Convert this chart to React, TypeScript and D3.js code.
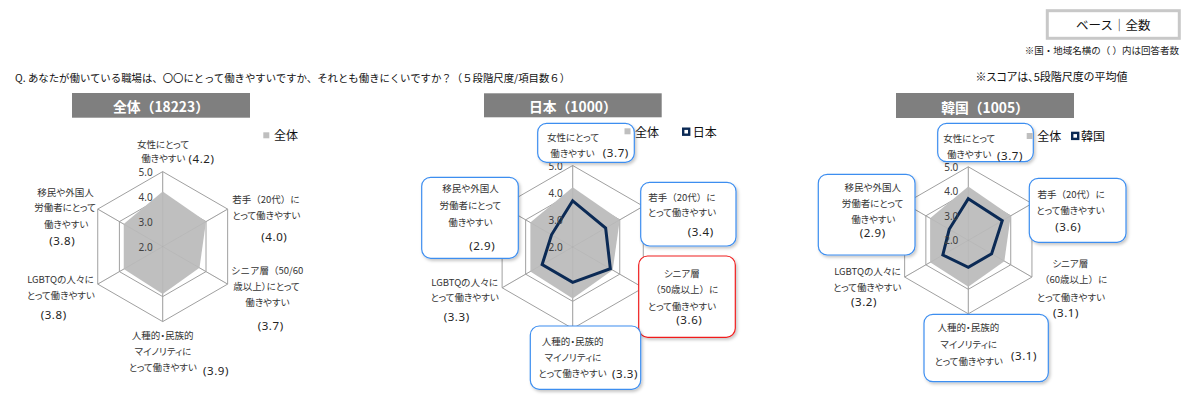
import React from "react";
import * as d3 from "d3";

// ---------- DATA ----------
const regionNames = ["全体", "日本", "韓国"];
const respondentCounts = [18223, 1000, 1005];
const overallValues = [4.2, 4.0, 3.7, 3.9, 3.8, 3.8];
const japanValues = [3.7, 3.4, 3.6, 3.3, 3.3, 2.9];
const koreaValues = [3.7, 3.6, 3.1, 3.1, 3.2, 2.9];
const tickValues = [2, 3, 4, 5];
const scaleDomain = [2, 5];

const overallAxisLabels = [
  ["女性にとって", "働きやすい"],
  ["若手（20代）に", "とって働きやすい"],
  ["シニア層（50/60", "歳以上）にとって", "働きやすい"],
  ["人種的・民族的", "マイノリティに", "とって働きやすい"],
  ["LGBTQの人々に", "とって働きやすい"],
  ["移民や外国人", "労働者にとって", "働きやすい"],
];
const japanAxisLabels = [
  ["女性にとって", "働きやすい"],
  ["若手（20代）に", "とって働きやすい"],
  ["シニア層", "（50歳以上）に", "とって働きやすい"],
  ["人種的・民族的", "マイノリティに", "とって働きやすい"],
  ["LGBTQの人々に", "とって働きやすい"],
  ["移民や外国人", "労働者にとって", "働きやすい"],
];
const koreaAxisLabels = [
  ["女性にとって", "働きやすい"],
  ["若手（20代）に", "とって働きやすい"],
  ["シニア層", "（60歳以上）に", "とって働きやすい"],
  ["人種的・民族的", "マイノリティに", "とって働きやすい"],
  ["LGBTQの人々に", "とって働きやすい"],
  ["移民や外国人", "労働者にとって", "働きやすい"],
];

const questionText =
  "Q. あなたが働いている職場は、〇〇にとって働きやすいですか、それとも働きにくいですか？（５段階尺度/項目数６）";
const baseText = "ベース｜全数";
const noteText = "※国・地域名横の（ ）内は回答者数";
const scoreNote = "※スコアは、5段階尺度の平均値";

// ---------- LAYOUT (positions / styles only) ----------
const BLUE = "#3d8ef0";
const RED = "#f01e1e";
const NAVY = "#0b2a55";
const FILL = "#bfbfbf";
const GRID = "#a0a0a0";
const JP = "'Noto Sans CJK JP', 'Noto Sans', sans-serif";

type Box = [number, number, number, number, string] | null;
type LabelLayout = { lines: [number, number][]; value: [number, number]; box: Box };
type ChartLayout = {
  cx: number;
  cy: number;
  r: number;
  title: [number, number, number, number];
  labels: LabelLayout[];
  legend: { gray: [number, number]; grayText: [number, number]; navy?: [number, number]; navyText?: [number, number] };
};

const layouts: ChartLayout[] = [
  {
    cx: 162.7,
    cy: 246.6,
    r: 75,
    title: [72, 93, 178, 24.7],
    labels: [
      { lines: [[163, 144], [163.3, 158]], value: [201.5, 158], box: null },
      { lines: [[266, 199], [266.3, 215]], value: [274.3, 236], box: null },
      { lines: [[267.2, 270], [266.5, 285.7], [267.5, 301.7]], value: [270.7, 325.7], box: null },
      { lines: [[162.7, 335], [163, 351], [162.8, 366.7]], value: [216, 370.7], box: null },
      { lines: [[60.5, 279], [60.8, 295]], value: [53.7, 314.3], box: null },
      { lines: [[65.5, 191.7], [65, 207.3], [66.2, 224]], value: [62.2, 240.7], box: null },
    ],
    legend: { gray: [263.3, 132.3], grayText: [274, 134.3] },
  },
  {
    cx: 572.7,
    cy: 247,
    r: 81.5,
    title: [484, 93.3, 177.7, 24],
    labels: [
      { lines: [[573, 136.7], [572.5, 152.7]], value: [615.8, 152.7], box: [537.7, 123.3, 96.6, 39, BLUE] },
      { lines: [[682, 196.7], [682, 212.3]], value: [700.7, 231.7], box: [640.7, 182.3, 95.3, 63.7, BLUE] },
      { lines: [[681.7, 272.7], [684.8, 289.3], [682, 306]], value: [689.3, 319.3], box: [638.7, 256, 96.6, 81.3, RED] },
      { lines: [[572.7, 340.7], [573, 356.7], [572.5, 373.3]], value: [625, 373.3], box: [530.3, 326, 110.4, 63.3, BLUE] },
      { lines: [[464.7, 281.7], [464.7, 297.3]], value: [456.7, 316], box: null },
      { lines: [[470.5, 188.3], [470.3, 205], [470.5, 221.7]], value: [482.2, 245], box: [421.7, 177.3, 96.6, 81, BLUE] },
    ],
    legend: { gray: [624.5, 128.3], grayText: [635, 131.7], navy: [682, 127.5], navyText: [692.7, 131.7] },
  },
  {
    cx: 968.3,
    cy: 240.3,
    r: 73.5,
    title: [896, 93, 178, 25],
    labels: [
      { lines: [[969.2, 137.7], [969.2, 154.3]], value: [1010, 155], box: [937.7, 123.3, 95.6, 38.4, BLUE] },
      { lines: [[1071.3, 194.3], [1070.5, 210]], value: [1068.3, 226.7], box: [1029.3, 178.3, 96.7, 64, BLUE] },
      { lines: [[1070.2, 262.7], [1073.8, 279.3], [1071, 296.7]], value: [1066, 312.3], box: null },
      { lines: [[968.3, 327.3], [968.7, 344], [968.7, 360.7]], value: [1024, 355], box: [924, 314.3, 124.3, 67.4, BLUE] },
      { lines: [[867.5, 271], [867.2, 287.3]], value: [864, 301], box: null },
      { lines: [[872.7, 186.7], [872.5, 203], [873.3, 219]], value: [872.7, 232.3], box: [818.3, 174.3, 96.7, 80.7, BLUE] },
    ],
    legend: { gray: [1026.7, 133], grayText: [1037.3, 135.7], navy: [1071, 131.7], navyText: [1081, 135.7] },
  },
];

const chartSeries: (number[] | null)[] = [null, japanValues, koreaValues];
const chartAxisLabels = [overallAxisLabels, japanAxisLabels, koreaAxisLabels];

const palt: React.CSSProperties = { fontFeatureSettings: '"palt"' };
const lineStyle = (s: string): React.CSSProperties | undefined => (s.includes("（") ? undefined : palt);

function Radar({ idx }: { idx: number }) {
  const L = layouts[idx];
  const series = chartSeries[idx];
  const labels = chartAxisLabels[idx];
  const values = series ?? overallValues;
  const n = overallValues.length;
  const rScale = d3.scaleLinear().domain(scaleDomain).range([0, L.r]);
  const angle = (i: number) => (i * 2 * Math.PI) / n;
  const radial = d3
    .lineRadial<number>()
    .angle((_, i) => angle(i))
    .radius((d) => rScale(d))
    .curve(d3.curveLinearClosed);
  const ringPath = (v: number) => radial(d3.range(n).map(() => v)) as string;
  const [tx, ty, tw, th] = L.title;

  return (
    <g>
      {/* title */}
      <rect x={tx} y={ty} width={tw} height={th} fill="#7f7f7f" />
      <text
        x={tx + tw / 2}
        y={ty + th / 2 + 1}
        textAnchor="middle"
        dominantBaseline="central"
        fill="#fff"
        fontWeight="bold"
        fontSize={13.8}
        fontFamily={JP}
      >
        {`${regionNames[idx]}（${respondentCounts[idx]}）`}
      </text>

      <g transform={`translate(${L.cx},${L.cy})`}>
        {tickValues
          .filter((t) => t > scaleDomain[0])
          .map((t) => (
            <path key={t} d={ringPath(t)} fill="none" stroke={GRID} strokeWidth={1} />
          ))}
        {d3.range(n).map((i) => {
          const a = angle(i) - Math.PI / 2;
          return (
            <line
              key={i}
              x1={0}
              y1={0}
              x2={Math.cos(a) * rScale(scaleDomain[1])}
              y2={Math.sin(a) * rScale(scaleDomain[1])}
              stroke={GRID}
              strokeWidth={1}
            />
          );
        })}
        <path d={radial(overallValues) as string} fill={FILL} stroke="none" />
        {d3.range(n).map((i) => {
          const a = angle(i) - Math.PI / 2;
          return (
            <line
              key={"s" + i}
              x1={0}
              y1={0}
              x2={Math.cos(a) * rScale(scaleDomain[1])}
              y2={Math.sin(a) * rScale(scaleDomain[1])}
              stroke={GRID}
              strokeWidth={0.6}
              opacity={0.35}
            />
          );
        })}
        {series && (
          <path
            d={radial(series) as string}
            fill="none"
            stroke={NAVY}
            strokeWidth={3}
            strokeLinejoin="miter"
          />
        )}
        {tickValues.map((t) => (
          <text
            key={t}
            x={-10}
            y={-rScale(t)}
            textAnchor="end"
            dominantBaseline="central"
            fontSize={10}
            fill="#404040"
            fontFamily="'Noto Sans', sans-serif"
          >
            {t.toFixed(1)}
          </text>
        ))}
      </g>

      {/* axis labels */}
      {L.labels.map((lab, i) => (
        <g key={i}>
          {lab.box && (
            <rect
              x={lab.box[0]}
              y={lab.box[1]}
              width={lab.box[2]}
              height={lab.box[3]}
              rx={9}
              ry={9}
              fill="#fff"
              stroke={lab.box[4]}
              strokeWidth={1.2}
              filter="url(#shadow)"
            />
          )}
          {labels[i].map((line, j) => (
            <text
              key={j}
              x={lab.lines[j][0]}
              y={lab.lines[j][1]}
              textAnchor="middle"
              dominantBaseline="central"
              fontSize={9.5}
              fill="#333"
              fontFamily={JP}
              style={lineStyle(line)}
            >
              {line}
            </text>
          ))}
          <text
            x={lab.value[0]}
            y={lab.value[1]}
            textAnchor="middle"
            dominantBaseline="central"
            fontSize={11.5}
            fill="#222"
            fontFamily="'Noto Sans', sans-serif"
            letterSpacing={0.6}
          >
            {`(${values[i].toFixed(1)})`}
          </text>
        </g>
      ))}

      {/* legend */}
      <rect x={L.legend.gray[0]} y={L.legend.gray[1]} width={6} height={6} fill={FILL} />
      <text
        x={L.legend.grayText[0]}
        y={L.legend.grayText[1]}
        dominantBaseline="central"
        fontSize={12}
        fill="#111"
        fontFamily={JP}
      >
        {regionNames[0]}
      </text>
      {L.legend.navy && L.legend.navyText && (
        <>
          <rect
            x={L.legend.navy[0] + 1.2}
            y={L.legend.navy[1] + 1.2}
            width={6}
            height={6}
            fill="#fff"
            stroke={NAVY}
            strokeWidth={2.4}
          />
          <text
            x={L.legend.navyText[0]}
            y={L.legend.navyText[1]}
            dominantBaseline="central"
            fontSize={12}
            fill="#111"
            fontFamily={JP}
          >
            {regionNames[idx]}
          </text>
        </>
      )}
    </g>
  );
}

export default function App() {
  return (
    <div style={{ position: "absolute", left: 0, top: 0, width: 1200, height: 400, background: "#fff" }}>
      <svg width={1200} height={400} viewBox="0 0 1200 400" style={{ display: "block" }}>
        <defs>
          <filter id="shadow" x="-10%" y="-10%" width="130%" height="140%">
            <feDropShadow dx={1.5} dy={2} stdDeviation={1.5} floodColor="#000" floodOpacity={0.22} />
          </filter>
        </defs>
        <rect width={1200} height={400} fill="#fff" />

        {/* header */}
        <rect x={1047.3} y={10.7} width={132} height={27.6} fill="#fff" stroke="#c8c8c8" strokeWidth={3} />
        <text
          x={1113.3}
          y={24.8}
          textAnchor="middle"
          dominantBaseline="central"
          fontSize={12.5}
          fill="#111"
          fontFamily={JP}
        >
          {baseText}
        </text>
        <text
          x={1179}
          y={50}
          textAnchor="end"
          dominantBaseline="central"
          fontSize={9.5}
          fill="#222"
          fontFamily={JP}
        >
          {noteText}
        </text>
        <text
          x={1051.5}
          y={76}
          textAnchor="middle"
          dominantBaseline="central"
          fontSize={11}
          fill="#111"
          fontFamily={JP}
          style={palt}
        >
          {scoreNote}
        </text>
        <text x={15} y={77.3} dominantBaseline="central" fontSize={10.4} fill="#111" fontFamily={JP}>
          {questionText}
        </text>

        {layouts.map((_, i) => (
          <Radar key={i} idx={i} />
        ))}
      </svg>
    </div>
  );
}
